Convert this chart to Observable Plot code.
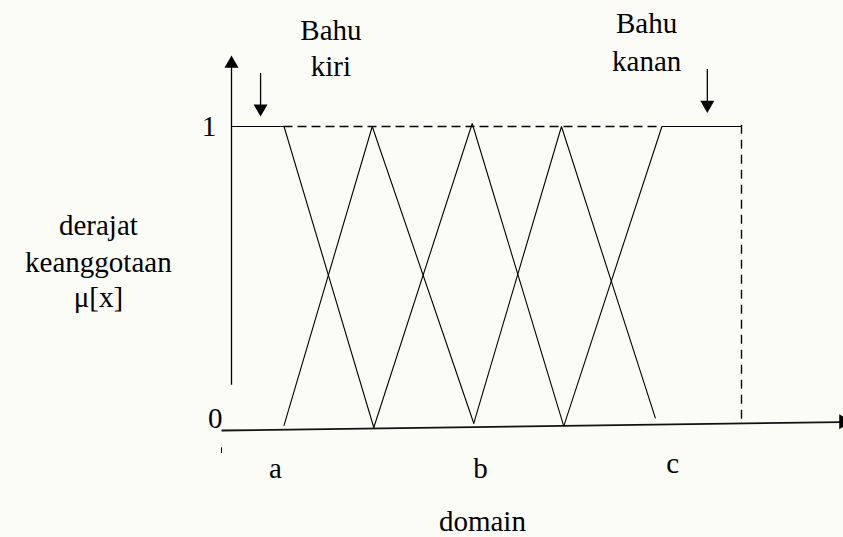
<!DOCTYPE html>
<html>
<head>
<meta charset="utf-8">
<script src="https://cdn.jsdelivr.net/npm/d3@7"></script>
<script src="https://cdn.jsdelivr.net/npm/@observablehq/plot@0.6"></script>
<style>
  html, body { margin: 0; padding: 0; background: #fcfcf7; }
  #chart svg { display: block; }
  #chart svg text, #chart svg tspan { font-family: "Liberation Serif", "Times New Roman", "DejaVu Serif", serif !important; }
</style>
</head>
<body>
<div id="chart"></div>
<script>
// ---- data (domain units on x, membership degree μ on y) ----
const kiriX  = [0, 1.03, 2.79];   const kiriMu  = [1, 1, 0];
const tri1X  = [1.03, 2.76, 4.75]; const tri1Mu = [0.007, 1, 0.014];
const tri2X  = [2.79, 4.72, 6.51]; const tri2Mu = [0, 1.01, 0.007];
const tri3X  = [4.75, 6.47, 8.31]; const tri3Mu = [0.014, 1, 0.032];
const kananX = [6.52, 8.44, 10];   const kananMu = [0.007, 1, 1];

const muTicks = ["0", "1"];
const domainTicks = ["a", "b", "c"];
const domainTickPos = [0.86, 4.88, 8.65];
const shoulderNames = ["Bahu\nkiri", "Bahu\nkanan"];
const shoulderArrowX = [0.57, 9.33];
const yLabel = ["derajat", "keanggotaan", "μ[x]"];
const xLabel = "domain";

// ---- build table ----
const sets = [
  ["kiri", kiriX, kiriMu], ["t1", tri1X, tri1Mu], ["t2", tri2X, tri2Mu],
  ["t3", tri3X, tri3Mu], ["kanan", kananX, kananMu]
];
const pts = sets.flatMap(([s, xs, ys]) => xs.map((x, i) => ({set: s, x, mu: ys[i]})));

// ---- layout (annotation placement) ----
const font = 29;
const serif = "'Liberation Serif', 'Times New Roman', 'DejaVu Serif', serif";
const muTickLayout = [{t: muTicks[0], x: -0.32, y: -0.003}, {t: muTicks[1], x: -0.44, y: 0.97}];
const domTickLayout = domainTicks.map((t, i) => ({t, x: domainTickPos[i], y: i === 2 ? -0.15 : -0.169}));
const yLabLayout = yLabel.map((t, i) => ({t, x: -2.61, y: [0.638, 0.515, 0.399][i]}));
const shoulderLayout = [
  {lines: shoulderNames[0].split("\n"), x: 1.95, y: [1.286, 1.169]},
  {lines: shoulderNames[1].split("\n"), x: 8.14, y: [1.309, 1.183]}
].flatMap(d => d.lines.map((t, i) => ({t, x: d.x, y: d.y[i]})));
const arrowLayout = [
  {x: shoulderArrowX[0], y1: 1.176, y2: 1.066, tip: 1.06},
  {x: shoulderArrowX[1], y1: 1.189, y2: 1.08, tip: 1.072}
];
const txt = {x: "x", y: "y", text: "t", lineAnchor: "bottom", fontSize: font, fontFamily: serif, fill: "#000"};

const chart = Plot.plot({
  width: 843,
  height: 537,
  margin: 0,
  x: {domain: [0, 10], range: [231, 741], axis: null},
  y: {domain: [0, 1], range: [427, 126], axis: null},
  style: {background: "#fcfcf7", fontFamily: serif, fontSize: font + "px", color: "#000"},
  marks: [
    // axes
    Plot.ruleX([0], {y1: 0.14, y2: 1.2, stroke: "#000", strokeWidth: 1.3}),
    Plot.dot([{x: 0, y: 1.209}], {x: "x", y: "y", symbol: "triangle", r: 5.2, fill: "#000", stroke: "none"}),
    Plot.link([{x1: -0.196, y1: -0.01, x2: 11.95, y2: 0.018}], {x1: "x1", y1: "y1", x2: "x2", y2: "y2", stroke: "#111", strokeWidth: 1.8}),
    Plot.dot([{x: 12.0, y: 0.019}], {x: "x", y: "y", symbol: "triangle", r: 5.5, fill: "#000", stroke: "none", rotate: 90}),
    Plot.link([{x1: -0.196, y1: -0.066, x2: -0.196, y2: -0.085}], {x1: "x1", y1: "y1", x2: "x2", y2: "y2", stroke: "#000", strokeWidth: 1}),
    // dashed guides
    Plot.ruleY([1], {x1: kiriX[1], x2: kananX[1], stroke: "#000", strokeWidth: 1.4, strokeDasharray: "9,5"}),
    Plot.ruleX([kananX[2]], {y1: 0.027, y2: 1.01, stroke: "#000", strokeWidth: 1.4, strokeDasharray: "9,6"}),
    // membership functions
    Plot.line(pts, {x: "x", y: "mu", z: "set", stroke: "#000", strokeWidth: 1.1, strokeLinejoin: "miter"}),
    // shoulder arrows
    Plot.ruleX(arrowLayout, {x: "x", y1: "y1", y2: "y2", stroke: "#000", strokeWidth: 1.3}),
    Plot.dot(arrowLayout, {x: "x", y: "tip", symbol: "triangle", r: 5.2, fill: "#000", stroke: "none", rotate: 180}),
    // texts
    Plot.text(shoulderLayout, txt),
    Plot.text(muTickLayout, txt),
    Plot.text(domTickLayout, txt),
    Plot.text(yLabLayout, txt),
    Plot.text([{t: xLabel, x: 4.92, y: -0.345}], txt)
  ]
});
document.getElementById("chart").appendChild(chart);
</script>
</body>
</html>
